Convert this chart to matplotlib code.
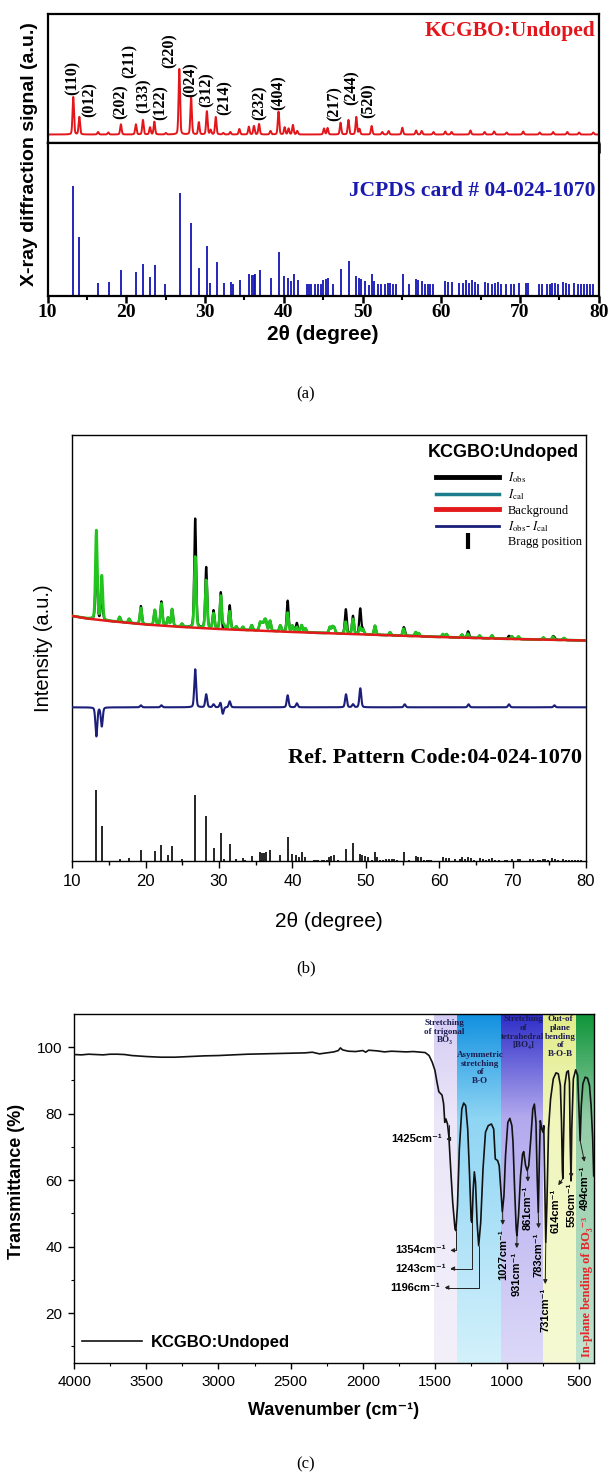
import numpy as np
import matplotlib
matplotlib.use("Agg")
import matplotlib.pyplot as plt
from matplotlib.lines import Line2D
from matplotlib.colors import LinearSegmentedColormap

plt.rcParams['font.family'] = ['Liberation Sans', 'DejaVu Sans']
plt.rcParams['mathtext.fontset'] = 'stix'
SERIF = ['Liberation Serif', 'DejaVu Serif']
SANS = ['Liberation Sans', 'DejaVu Sans']

# ---------------- (a) measured XRD pattern (peak positions / tip heights)
xrd_base = 8.5
xrd_pos = [13.25, 14.02, 16.4, 17.7, 19.3, 21.2, 22.1, 23.0, 23.55, 25.0,
           26.72, 28.22, 29.2, 30.22, 30.7, 31.35, 32.3, 33.2, 34.35, 35.55,
           36.2, 36.85, 38.3, 39.32, 40.1, 40.6, 41.15, 41.7, 45.1, 45.55,
           47.2, 48.2, 49.2, 49.6, 51.15, 52.5, 53.3, 55.05, 56.8, 57.5,
           59.0, 60.5, 61.3, 63.7, 65.5, 66.7, 68.3, 70.4, 72.5, 74.2,
           76.0, 77.5, 79.3]
xrd_top = [46, 26, 11, 10.5, 18.7, 18.7, 23, 15.7, 21.3, 10,
           74, 46, 20.7, 31.7, 13, 26, 10, 11, 14, 16.3,
           17, 19, 12, 31.3, 15.7, 14.5, 18, 12, 14.5, 15,
           20.3, 23, 26, 14, 17, 11, 12, 15.3, 12.5, 12,
           11, 11.5, 11, 12.5, 11, 11.5, 10.5, 11.5, 10.5, 11,
           11, 10.5, 10.5]

hkl_labels = ['(110)', '(012)', '(202)', '(211)', '(133)', '(122)', '(220)', '(024)',
              '(312)', '(214)', '(232)', '(404)', '(217)', '(244)', '(520)']
hkl_x = [13.2, 15.35, 19.3, 20.4, 22.2, 24.3, 25.5, 28.2, 30.2, 32.5, 36.9, 39.3, 46.5, 48.6, 50.8]
hkl_y = [48, 26, 24, 65, 29.7, 23, 74.7, 46.3, 36.3, 28, 23, 33, 22.3, 38, 24.7]

# reference card 04-024-1070 (relative intensity)
card_pos = [13.25, 14.02, 16.45, 17.75, 19.35, 21.25, 22.15, 23.05, 23.6, 24.95,
            26.75, 28.25, 29.25, 30.25, 30.65, 31.45, 32.35, 33.25, 33.6, 34.45,
            35.6, 35.9, 36.15, 36.35, 36.95, 38.35, 39.35, 40.0, 40.55, 40.85,
            41.25, 41.75, 43.0, 43.2, 43.5, 44.0, 44.3, 44.7, 45.0, 45.3,
            45.6, 46.2, 47.25, 48.25, 49.2, 49.5, 49.85, 50.3, 50.8, 51.25,
            51.5, 51.9, 52.3, 52.8, 53.2, 53.5, 53.9, 54.3, 55.15, 55.9,
            56.8, 57.1, 57.5, 57.9, 58.3, 58.6, 58.9, 60.5, 60.9, 61.3,
            62.2, 62.8, 63.1, 63.5, 63.9, 64.3, 64.7, 65.5, 65.9, 66.4,
            66.8, 67.2, 67.6, 68.2, 68.9, 69.2, 69.9, 70.7, 71.0, 72.4,
            72.8, 73.4, 73.8, 74.1, 74.4, 74.8, 75.4, 75.8, 76.2, 76.9,
            77.3, 77.7, 78.1, 78.5, 78.9, 79.3]
card_int = [100, 49, 3, 4, 16, 14, 22, 9, 21, 2.5,
            93, 63, 18, 40, 3, 24, 3, 4, 2, 6.5,
            12, 11, 11, 12, 16, 8, 34.5, 10.5, 8, 5,
            12, 6, 2, 2, 2, 2, 2, 2, 6, 7,
            8, 2, 17, 25, 10.5, 8, 7, 5, 1.5, 12,
            5, 2, 2, 2.5, 3, 3, 2.5, 2, 12, 2,
            7, 6, 5, 2, 2, 2, 2, 5, 4, 4,
            3, 3, 6, 3, 6, 4, 2, 4, 3, 2,
            3, 4, 2, 2, 2, 2, 3, 3, 3, 2.5,
            2.5, 2, 2, 3, 3, 2, 4, 3, 2, 3,
            2, 2, 2, 2, 2, 2]

# ---------------- (b) Rietveld refinement
bg_x = [10, 12, 15, 20, 25, 30, 40, 50, 60, 70, 80]
bg_y = [245, 242.5, 240, 236.5, 234, 232, 229, 226.5, 224, 222, 220.5]
cal_pos = [13.28, 14.02, 16.45, 17.75, 19.35, 21.25, 22.15, 23.05, 23.6, 24.95,
           26.75, 28.25, 29.25, 30.25, 30.65, 31.45, 32.35, 33.25, 34.45, 35.6,
           35.9, 36.2, 36.4, 36.95, 38.35, 39.35, 40.0, 40.6, 41.25, 41.75,
           45.1, 45.45, 45.7, 47.25, 48.25, 49.2, 49.6, 51.25, 53.3, 55.15,
           56.8, 57.2, 60.5, 61.0, 63.1, 63.9, 65.5, 67.2, 69.9, 70.8,
           74.2, 75.5, 77.0]
cal_amp = [89, 44, 5, 4, 16, 15, 22, 8, 17, 3,
           71, 48, 15, 33, 4, 18, 3, 3, 5, 8,
           7, 8, 8, 10, 6, 19, 6, 5, 7, 4,
           6, 6, 5, 12, 15, 7, 5, 9, 3, 7,
           4, 3, 3, 3, 3, 4, 2.5, 3, 2.5, 2.5,
           2, 3, 2]
diff_pos = [13.28, 14.02, 19.35, 22.15, 26.75, 28.25, 29.25, 30.2, 30.5, 31.45,
            39.35, 40.6, 47.3, 48.25, 49.25, 55.3, 64.0, 69.5, 75.7]
diff_amp = [-29, -19, 2, 2, 38, 13, 3, 5, -7, 6,
            12, 4, 13, 3, 19, 3, 3, 3, 2]
diff_offset = 153.7
card_scale_b = 0.71

# ---------------- (c) FTIR spectrum
ir_wn = [4000, 3950, 3900, 3850, 3800, 3750, 3700, 3650, 3600, 3500,
         3400, 3300, 3200, 3100, 3000, 2900, 2800, 2700, 2600, 2500,
         2400, 2350, 2300, 2250, 2200, 2170, 2155, 2140, 2100, 2050,
         2000, 1980, 1960, 1900, 1850, 1800, 1750, 1700, 1650, 1600,
         1568, 1541, 1519, 1500, 1486, 1473, 1451, 1440, 1432, 1424,
         1413, 1404, 1391, 1377, 1361, 1355, 1344, 1331, 1314, 1301,
         1287, 1273, 1260, 1249, 1243, 1235, 1227, 1219, 1208, 1197,
         1183, 1167, 1150, 1131, 1109, 1093, 1082, 1066, 1055, 1044,
         1033, 1022, 1011, 995, 981, 967, 959, 948, 937, 932,
         921, 907, 893, 885, 872, 861, 850, 836, 822, 811,
         800, 792, 784, 776, 770, 760, 751, 746, 738, 732,
         724, 713, 699, 680, 661, 645, 631, 623, 617, 614,
         609, 601, 587, 576, 568, 563, 557, 552, 541, 525,
         511, 503, 494, 486, 475, 459, 443, 429, 418, 407,
         400]
ir_T = [97.8, 97.7, 97.9, 97.8, 97.7, 97.9, 97.9, 97.8, 97.5, 97.2,
        97.0, 97.0, 97.2, 97.4, 97.5, 97.7, 97.9, 98.0, 98.1, 98.2,
        98.3, 98.5, 98.0, 98.3, 98.6, 99.0, 99.8, 99.2, 98.8, 98.7,
        99.0, 98.5, 99.1, 98.9, 98.6, 98.8, 98.7, 98.6, 98.7, 98.5,
        98.4, 97.5, 95.5, 93.0, 89.5, 86.6, 85.6, 83.0, 77.4, 78.4,
        76.9, 73.4, 63.4, 53.3, 45.3, 44.8, 52.3, 69.4, 81.4, 83.2,
        82.4, 75.4, 61.3, 47.8, 47.3, 57.3, 62.5, 59.3, 47.3, 40.3,
        47.3, 63.4, 74.4, 76.4, 76.9, 75.4, 66.4, 65.9, 64.4, 57.3,
        50.5, 55.3, 67.4, 77.4, 78.6, 76.4, 71.4, 57.3, 45.3, 43.3,
        49.3, 61.3, 67.9, 68.6, 64.4, 62.9, 64.4, 72.4, 81.4, 82.9,
        77.4, 61.3, 50.3, 67.4, 77.9, 75.4, 74.4, 76.4, 57.3, 41.3,
        53.3, 75.4, 84.4, 90.5, 92.3, 92.0, 88.5, 77.4, 62.9, 60.5,
        72.4, 88.5, 92.5, 92.9, 89.5, 72.4, 59.8, 75.4, 90.5, 93.2,
        91.5, 82.4, 71.9, 82.4, 89.0, 91.0, 90.7, 88.5, 82.4, 72.4,
        61.3]

band_hi = [1510, 1347, 1041, 751, 525]
band_lo = [1347, 1041, 751, 525, 400]
band_colors = [['#f3f0fa', '#ebe6f8', '#d4ccf4'],
               ['#d3f1fb', '#8fd5f4', '#1090e0'],
               ['#dcd8f8', '#b3aaee', '#2c2cc8'],
               ['#f6fad4', '#f0f6bc', '#e2ec88'],
               ['#c2e4cf', '#92cca6', '#0e9438']]
band_titles = ['Stretching\nof trigonal\nBO\u2083', 'Asymmetric\nstretching\nof\nB-O',
               'Stretching\nof\ntetrahedral\n[BO\u2084]', 'Out-of\nplane\nbending\nof\nB-O-B']
band_title_x = [1435, 1187, 890, 631]
band_title_y = [108.5, 98.8, 109.6, 109.6]

# horizontal labels: (value, curve wn, curve T, text wn, text T)
ir_hlabels = [(1425, 1405, 76.6, 1451, 72.4),
              (1354, 1354, 44.8, 1423, 38.9),
              (1243, 1243, 47.3, 1423, 33.4),
              (1196, 1196, 40.3, 1463, 27.7)]
# vertical labels
ir_vlabels = [(1027, 1031, 50.3, 1030, 45.3),
              (931, 932, 43.3, 933, 38.3),
              (861, 858, 62.9, 855, 58.3),
              (783, 784, 50.3, 781, 44.3),
              (731, 732, 41.3, 736, 27.5),
              (614, 614, 60.5, 664, 57.3),
              (559, 556, 76.0, 556, 59.4),
              (494, 494, 71.9, 458, 64.3)]


def peaks(x, pos, amp, hw):
    y = np.zeros_like(x)
    for p, a in zip(pos, amp):
        d = (x - p) / hw
        y += a * (0.75 * np.exp(-np.log(2) * d ** 2) + 0.25 / (1 + d ** 2))
    return y


fig = plt.figure(figsize=(6.12, 14.72), dpi=100)
xs = np.linspace(10, 80, 5000)

# ======================= (a)
ax1 = fig.add_axes([0.0779, 0.90285, 0.9005, 0.08764])
ax2 = fig.add_axes([0.0779, 0.79891, 0.9005, 0.10394], sharex=ax1)

red = xrd_base + peaks(xs, xrd_pos, np.array(xrd_top) - xrd_base, 0.11)
ax1.plot(xs, red, color='#e3161b', lw=1.4)
ax1.set_ylim(0, 129)
ax1.set_yticks([])
for lab, hx, hy in zip(hkl_labels, hkl_x, hkl_y):
    ax1.text(hx, hy, lab, rotation=90, ha='center', va='bottom', fontsize=11.5,
             fontweight='bold', family=SERIF)
ax1.text(0.994, 0.87, 'KCGBO:Undoped', transform=ax1.transAxes, ha='right', va='center',
         color='#e3161b', fontsize=15.5, fontweight='bold', family=SERIF)

ax2.vlines(card_pos, -10, card_int, color='#1414b4', lw=1.3)
ax2.set_ylim(-10, 143)
ax2.set_yticks([])
ax2.set_xlim(10, 80)
ax2.set_xticks(range(10, 81, 10), labels=[str(v) for v in range(10, 81, 10)],
               fontsize=14, fontweight='bold', family=SERIF)
ax2.set_xticks(range(15, 80, 10), minor=True)
ax2.tick_params(axis='x', which='major', direction='out', length=5, width=1.8, pad=0.5)
ax2.tick_params(axis='x', which='minor', direction='out', length=3, width=1.5)
ax1.tick_params(axis='x', which='both', direction='out', length=7, width=1.8,
                bottom=True, labelbottom=False)
ax2.text(0.994, 0.688, 'JCPDS card # 04-024-1070', transform=ax2.transAxes, ha='right',
         va='center', color='#1a1ab0', fontsize=15.5, fontweight='bold', family=SERIF)
ax2.set_xlabel('2\u03b8 (degree)', fontsize=15, fontweight='bold')
ax2.xaxis.set_label_coords(0.5, -0.19)
for ax in (ax1, ax2):
    for s in ax.spines.values():
        s.set_linewidth(1.6)
fig.text(29.3 / 612, 1 - 154.5 / 1472, 'X-ray diffraction signal (a.u.)', rotation=90,
         ha='center', va='center', fontsize=14, fontweight='bold')
fig.text(0.5, 1 - 394 / 1472, '(a)', ha='center', va='center', family=SERIF, fontsize=12)

# ======================= (b)
axb = fig.add_axes([0.1181, 0.41508, 0.8394, 0.2894])
bg = np.interp(xs, bg_x, bg_y)
cal = bg + peaks(xs, cal_pos, cal_amp, 0.15)
dif = peaks(xs, diff_pos, diff_amp, 0.15)
obs = cal + dif
axb.plot(xs, obs, color='black', lw=1.6, zorder=2)
axb.plot(xs, cal, color='#22c51e', lw=2.0, zorder=3)
axb.plot(bg_x, bg_y, color='#e31a1c', lw=1.8, zorder=4)
axb.plot(xs, diff_offset + dif, color='#1b1f7a', lw=1.5, zorder=3)
axb.vlines(card_pos, 0, np.array(card_int) * card_scale_b, color='black', lw=1.2)
axb.set_xlim(10, 80)
axb.set_ylim(0, 426)
axb.set_yticks([])
axb.set_xticks(range(10, 81, 10), labels=[str(v) for v in range(10, 81, 10)], fontsize=12)
axb.set_xticks(range(15, 80, 10), minor=True)
axb.tick_params(axis='x', which='major', direction='out', length=5, width=1, pad=4)
axb.tick_params(axis='x', which='minor', direction='out', length=3, width=1)
for s in axb.spines.values():
    s.set_linewidth(1.0)
axb.set_xlabel('2\u03b8 (degree)', fontsize=15)
axb.xaxis.set_label_coords(0.5, -0.119)
axb.set_ylabel('Intensity (a.u.)', fontsize=14.5)
axb.yaxis.set_label_coords(-0.037, 0.5)
axb.text(0.987, 0.958, 'KCGBO:Undoped', transform=axb.transAxes, ha='right', va='center',
         fontsize=13, fontweight='bold')
axb.text(0.992, 0.241, 'Ref. Pattern Code:04-024-1070', transform=axb.transAxes, ha='right',
         va='center', fontsize=16, fontweight='bold', family=SERIF)
handles = [Line2D([], [], color='black', lw=3.5),
           Line2D([], [], color='#1b7c8c', lw=2.5),
           Line2D([], [], color='#e31a1c', lw=3.5),
           Line2D([], [], color='#1b1f7a', lw=2),
           Line2D([], [], color='black', marker='|', linestyle='none', markersize=11, mew=3)]
labels = [r'$I_{\rm obs}$', r'$I_{\rm cal}$', 'Background', r'$I_{\rm obs}$- $I_{\rm cal}$',
          'Bragg position']
axb.legend(handles, labels, loc='upper left', bbox_to_anchor=(0.709, 0.918), frameon=False,
           borderpad=0, borderaxespad=0, handlelength=5, handletextpad=0.7, labelspacing=0.2,
           prop={'family': SERIF, 'size': 9})
fig.text(0.5, 1 - 968 / 1472, '(b)', ha='center', va='center', family=SERIF, fontsize=12)

# ======================= (c)
axc = fig.add_axes([0.1212, 0.07405, 0.8489, 0.2371])
grad = np.linspace(0, 1, 256).reshape(-1, 1)
for lo, hi, cols in zip(band_lo, band_hi, band_colors):
    cmap = LinearSegmentedColormap.from_list('band', [(0, cols[0]), (0.7, cols[1]), (1, cols[2])])
    axc.imshow(grad, extent=(hi, lo, 5, 110), origin='lower', cmap=cmap, aspect='auto', zorder=0)
axc.plot(ir_wn, ir_T, color='#121212', lw=1.2, zorder=3, label='KCGBO:Undoped')
axc.set_xlim(4000, 400)
axc.set_ylim(5, 110)
xt = list(range(4000, 499, -500))
axc.set_xticks(xt, labels=[str(v) for v in xt], fontsize=11)
axc.set_xticks(range(3750, 400, -500), minor=True)
yt = [20, 40, 60, 80, 100]
axc.set_yticks(yt, labels=[str(v) for v in yt], fontsize=11)
axc.set_yticks([10, 30, 50, 70, 90], minor=True)
axc.tick_params(which='major', direction='out', length=4.5, width=1, pad=4)
axc.tick_params(which='minor', direction='out', length=2.5, width=0.8)
for s in axc.spines.values():
    s.set_linewidth(1.0)
axc.set_xlabel('Wavenumber (cm\u207b\u00b9)', fontsize=13, fontweight='bold')
axc.xaxis.set_label_coords(0.5, -0.111)
axc.set_ylabel('Transmittance (%)', fontsize=13, fontweight='bold')
axc.yaxis.set_label_coords(-0.094, 0.52)

for txt, tx, ty in zip(band_titles, band_title_x, band_title_y):
    axc.text(tx, ty, txt, ha='center', va='top', fontsize=6.5, fontweight='bold',
             family=SERIF, color='#1c1c50', linespacing=1.1, zorder=4)

arrow_kw = dict(arrowstyle='<|-', color='#222222', lw=0.7, mutation_scale=6, shrinkA=1, shrinkB=0)
for v, cx, cy, tx, ty in ir_hlabels:
    axc.annotate(f'{v}cm\u207b\u00b9', xy=(cx, cy), xytext=(tx, ty), ha='right', va='center',
                 fontsize=8, fontweight='bold', zorder=5,
                 arrowprops=dict(connectionstyle='angle,angleA=0,angleB=90,rad=0',
                                 relpos=(1, 0.5), **arrow_kw))
for v, cx, cy, tx, ty in ir_vlabels:
    axc.annotate(f'{v}cm\u207b\u00b9', xy=(cx, cy), xytext=(tx, ty), ha='center', va='top',
                 rotation=90, fontsize=8, fontweight='bold', zorder=5,
                 arrowprops=dict(connectionstyle='arc3,rad=0', relpos=(0.5, 1), **arrow_kw))
axc.text(448, 28, 'In-plane bending of BO\u2083\u207b\u00b3', rotation=90, ha='center', va='center',
         fontsize=9, fontweight='bold', family=SERIF, color='#e8252a', zorder=5)
axc.legend(loc='center left', bbox_to_anchor=(0.015, 0.06), frameon=False, borderpad=0,
           borderaxespad=0, handlelength=3.6, handletextpad=0.55,
           prop={'weight': 'bold', 'size': 12})
fig.text(0.5, 1 - 1464 / 1472, '(c)', ha='center', va='center', family=SERIF, fontsize=12)

fig.savefig('out.png', dpi=100)
